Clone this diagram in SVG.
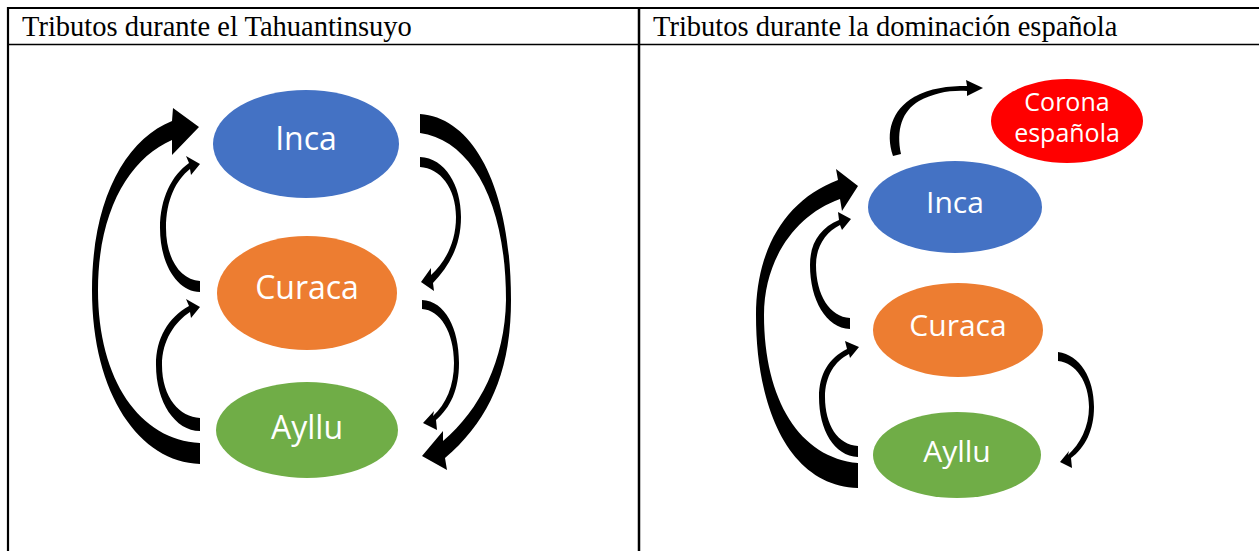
<svg xmlns="http://www.w3.org/2000/svg" width="1259" height="551" viewBox="0 0 1259 551">
<style>
.hdr{font-family:"Liberation Serif","Times New Roman",serif;font-size:28.5px;fill:#000}
.lbl{font-family:"Open Sans","Noto Sans",sans-serif;fill:#fff;text-anchor:middle}
.big{font-size:32px}
.med{font-size:30px}
.sm{font-size:25px}
.arr{fill:#000}
.tl{stroke:#000;fill:none}
</style>
<rect width="1259" height="551" fill="#fff"/>
<g id="table">
<line class="tl" x1="7" y1="8" x2="1259" y2="8" stroke-width="2.2"/>
<line class="tl" x1="8" y1="7" x2="8" y2="551" stroke-width="2.2"/>
<line class="tl" x1="639" y1="7" x2="639" y2="551" stroke-width="2.5"/>
<line class="tl" x1="8" y1="44.5" x2="1259" y2="44.5" stroke-width="1.5"/>
<text class="hdr" x="22" y="36">Tributos durante el Tahuantinsuyo</text>
<text class="hdr" x="653" y="36">Tributos durante la dominación española</text>
</g>
<g id="connectors">
<path class="arr" d="M200,464 C140,462 92,395 92,290 C92,200 125,140 172,121 L173,108 L199,127 L172,155 L172,140 C130,158 98,210 98,290 C98,380 140,440 200,443 Z"/>
<path class="arr" d="M200,292 C178,292 160,265 160,228 C160,198 172,175 189,163 L186,156 L200,164 L191,175 L190,169 C176,180 166,200 166,228 C166,258 180,280 200,281 Z"/>
<path class="arr" d="M200,431 C175,431 156,402 156,365 C156,338 168,318 189,306 L186,299 L200,307 L191,318 L190,312 C175,322 162,340 162,365 C162,398 180,417 200,418 Z"/>
<path class="arr" d="M420,114 C475,118 511,190 511,300 C511,370 490,420 445,458 L447,470 L422,456 L443,431 L443,441 C480,410 505,360 506,300 C506,200 470,140 420,133 Z"/>
<path class="arr" d="M420,157 C445,158 461,185 461,217 C461,245 450,265 433,283 L434,291 L421,282 L431,268 L431,275 C445,262 456,243 456,217 C456,188 440,168 420,167 Z"/>
<path class="arr" d="M422,300 C445,301 459,328 459,363 C459,390 450,408 436,420 L437,430 L423,423 L434,411 L433,416 C446,404 454,386 454,363 C454,332 440,310 422,309 Z"/>
<path class="arr" d="M893,156 C885,132 892,110 914,97 C930,88 948,86 967,86 L966,80 L983,88 L967,96 L967,91 C950,90 934,93 919,101 C902,111 896,130 901,154 Z"/>
<path class="arr" d="M858,488 C790,486 756,410 756,315 C756,250 785,200 838,180 L836,169 L858,186 L842,211 L840,199 C795,215 764,260 764,315 C764,400 800,458 858,463 Z"/>
<path class="arr" d="M850,329 C826,328 810,300 810,265 C810,243 820,228 839,220 L838,212 L851,219 L842,230 L840,225 C826,232 816,246 816,265 C816,295 830,317 850,318 Z"/>
<path class="arr" d="M858,457 C834,456 819,430 819,397 C819,374 829,358 847,349 L845,341 L859,347 L850,358 L849,354 C835,361 825,376 825,397 C825,425 838,445 858,446 Z"/>
<path class="arr" d="M1058,352 C1080,355 1094,378 1094,407 C1094,430 1085,448 1071,458 L1072,468 L1060,462 L1069,451 L1068,455 C1080,444 1089,427 1089,407 C1089,382 1076,363 1058,361 Z"/>
</g>
<g id="inca-left">
<ellipse cx="306" cy="144" rx="93" ry="54" fill="#4472C4"/>
<text class="lbl big" x="306" y="150">Inca</text>
</g>
<g id="curaca-left">
<ellipse cx="307" cy="293" rx="90" ry="57" fill="#ED7D31"/>
<text class="lbl big" x="307" y="299">Curaca</text>
</g>
<g id="ayllu-left">
<ellipse cx="307" cy="430" rx="91" ry="48" fill="#70AD47"/>
<text class="lbl big" x="307" y="439" fill="#eef8e4">Ayllu</text>
</g>
<g id="corona-right">
<ellipse cx="1067" cy="121" rx="76" ry="42" fill="#FF0000"/>
<text class="lbl sm" x="1067" y="111">Corona</text>
<text class="lbl sm" x="1067" y="142">española</text>
</g>
<g id="inca-right">
<ellipse cx="955" cy="207" rx="87" ry="46" fill="#4472C4"/>
<text class="lbl med" x="955" y="213">Inca</text>
</g>
<g id="curaca-right">
<ellipse cx="958" cy="330" rx="85" ry="47" fill="#ED7D31"/>
<text class="lbl med" x="958" y="336">Curaca</text>
</g>
<g id="ayllu-right">
<ellipse cx="957" cy="455" rx="84" ry="43" fill="#70AD47"/>
<text class="lbl med" x="957" y="462" fill="#eef8e4">Ayllu</text>
</g>
</svg>
